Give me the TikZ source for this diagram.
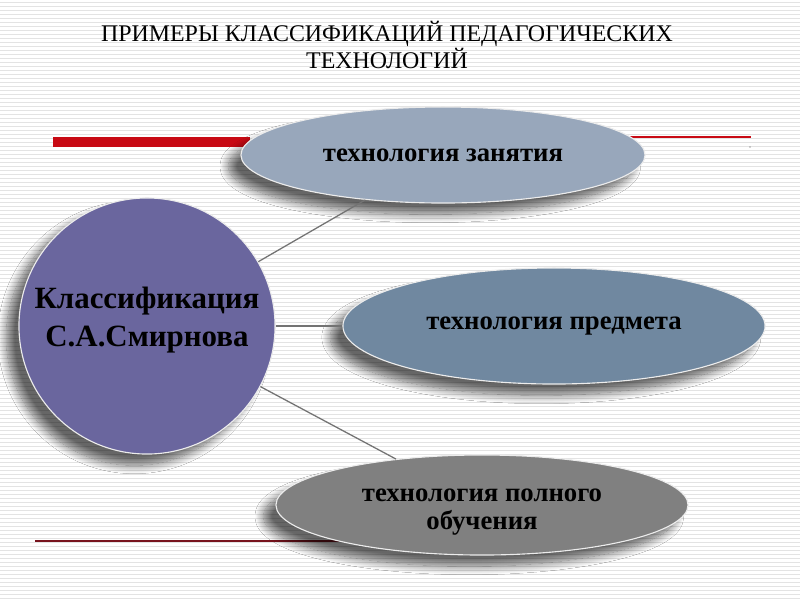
\documentclass[tikz,border=0pt]{standalone}
\usepackage{fontspec}
\setmainfont{Liberation Serif}
\usetikzlibrary{shapes.geometric,shadows.blur}
\tikzset{>=latex}
\definecolor{circfill}{RGB}{106,102,158}
\definecolor{zanfill}{RGB}{152,167,187}
\definecolor{predfill}{RGB}{112,136,160}
\definecolor{polnfill}{RGB}{128,128,128}
\definecolor{barred}{RGB}{200,10,20}
\definecolor{linered}{RGB}{120,20,30}
\tikzset{
    softshadow/.style={blur shadow={shadow xshift=-9pt, shadow yshift=-8pt, shadow blur radius=6pt,
        shadow blur steps=14, shadow opacity=60}},
    oval/.style={ellipse, inner sep=0pt, draw=white!85!gray, line width=0.8pt, softshadow,
        font=\bfseries\fontsize{19}{20}\selectfont, align=center},
    link/.style={draw=gray!90!black, line width=0.9pt}
}

\begin{document}
\begin{tikzpicture}[x=0.025cm, y=-0.025cm, line join = round]
    \useasboundingbox (0,0) rectangle (800,600);
    \fill[white] (0,0) rectangle (800,600);
    % background stripes
    \foreach \y in {2,6,...,598}
        \draw[gray!22, line width=0.5pt] (0,\y) -- (800,\y);

    \node[font=\fontsize{17}{19.5}\selectfont, align=center] (title) at (387,45)
        {ПРИМЕРЫ КЛАССИФИКАЦИЙ ПЕДАГОГИЧЕСКИХ\\ТЕХНОЛОГИЙ};

    \draw[barred, line width=6.5pt] (53,142) -- (250,142);
    \draw[barred, line width=0.8pt] (630,137) -- (751,137);
    \fill[black!70] (750,147) circle (0.6);
    \draw[linered, line width=0.8pt] (35,541) -- (488,541);

    \node[oval, fill=zanfill, minimum width=10.1cm, minimum height=2.4cm] (zan) at (443,155) {технология занятия};
    \node[oval, fill=predfill, minimum width=10.55cm, minimum height=2.9cm] (pred) at (554,326) {технология предмета};
    \node[oval, fill=polnfill, minimum width=10.3cm, minimum height=2.5cm] (poln) at (482,505) {};
    \node[font=\bfseries\fontsize{19}{20}\selectfont, align=center] (polntext) at (482,512)
        {технология полного\\обучения};

    \node[circle, fill=circfill, draw=white!85!gray, line width=0.8pt, minimum size=6.4cm, inner sep=0pt,
        softshadow] (circ) at (147,326) {};
    \node[font=\bfseries\fontsize{22}{27}\selectfont, align=center] (circtext) at (147,320)
        {Классификация\\С.А.Смирнова};

    \path[link] (circ) -- (zan);
    \path[link] (circ) -- (pred);
    \path[link] (circ) -- (poln);

\end{tikzpicture}
\end{document}
